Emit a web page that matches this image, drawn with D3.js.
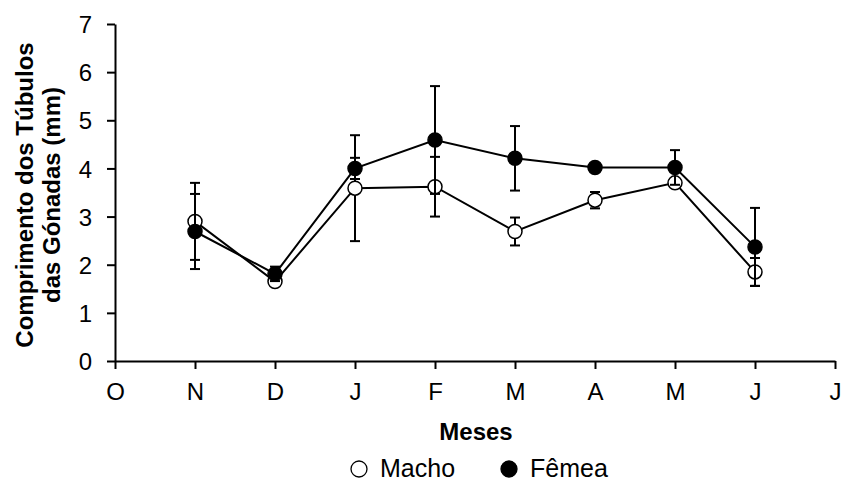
<!DOCTYPE html>
<html>
<head>
<meta charset="utf-8">
<script src="https://cdn.jsdelivr.net/npm/d3@7"></script>
<style>
  body { margin: 0; background: #fff; }
  svg { font-family: "Liberation Sans", Arial, sans-serif; }
</style>
</head>
<body>
<div id="chart"></div>
<script>
// Month tick labels (index 0..9) and the months with data
const monthLabels = ['O', 'N', 'D', 'J', 'F', 'M', 'A', 'M', 'J', 'J'];
const dataIdx = [1, 2, 3, 4, 5, 6, 7, 8];

// Macho (open circles): mean and error
const machoMean = [2.90, 1.65, 3.59, 3.62, 2.69, 3.34, 3.70, 1.85];
const machoErr = [0.80, 0.05, 1.10, 0.62, 0.29, 0.17, 0.05, 0.29];

// Fêmea (filled circles): mean and error
const femeaMean = [2.69, 1.81, 4.00, 4.59, 4.21, 4.02, 4.02, 2.37];
const femeaErr = [0.78, 0.15, 0.22, 1.12, 0.67, 0.03, 0.36, 0.81];

const yTicks = [0, 1, 2, 3, 4, 5, 6, 7];

// Size and plot area
const W = 842, H = 483;
const plot = { left: 115, right: 835, top: 24, bottom: 361 };

const svg = d3.select('#chart')
    .append('svg')
    .attr('width', W)
    .attr('height', H);

// Scales
const x = d3.scaleLinear().domain([0, 9]).range([plot.left, plot.right]);
const y = d3.scaleLinear().domain([0, 7]).range([plot.bottom, plot.top]);

// Axes
const xAxis = svg.append('g')
    .attr('transform', `translate(0,${plot.bottom})`)
    .call(d3.axisBottom(x)
        .tickValues(d3.range(10))
        .tickFormat(i => monthLabels[i])
        .tickSize(8)
        .tickSizeOuter(0)
        .tickPadding(14));

const yAxis = svg.append('g')
    .attr('transform', `translate(${plot.left},0)`)
    .call(d3.axisLeft(y)
        .tickValues(yTicks)
        .tickFormat(d3.format('d'))
        .tickSize(8)
        .tickSizeOuter(0)
        .tickPadding(15));

[xAxis, yAxis].forEach(ax => {
    ax.selectAll('path, line').attr('stroke', '#000').attr('stroke-width', 2);
    ax.selectAll('text').attr('font-size', 24).attr('fill', '#000')
        .attr('font-family', '"Liberation Sans", Arial, sans-serif');
});
yAxis.selectAll('text').attr('dy', '0.36em');

// Axis titles
svg.append('text')
    .attr('x', 476).attr('y', 440)
    .attr('text-anchor', 'middle')
    .attr('font-size', 24).attr('font-weight', 'bold')
    .text('Meses');

const yTitle = svg.append('text')
    .attr('transform', `translate(0,195) rotate(-90)`)
    .attr('text-anchor', 'middle')
    .attr('font-size', 24).attr('font-weight', 'bold');
yTitle.append('tspan').attr('x', 0).attr('y', 33).text('Comprimento dos Túbulos');
yTitle.append('tspan').attr('x', 0).attr('y', 60).text('das Gónadas (mm)');

// Build series
const series = [
    { name: 'Macho', fill: '#fff', pts: dataIdx.map((m, i) => ({ m, v: machoMean[i], e: machoErr[i] })) },
    { name: 'Fêmea', fill: '#000', pts: dataIdx.map((m, i) => ({ m, v: femeaMean[i], e: femeaErr[i] })) }
];

const line = d3.line().x(d => x(d.m)).y(d => y(d.v));

series.forEach(s => {
    // Error bars
    const eb = svg.append('g').attr('stroke', '#000').attr('stroke-width', 2);
    s.pts.forEach(d => {
        eb.append('line')
            .attr('x1', x(d.m)).attr('x2', x(d.m))
            .attr('y1', y(d.v - d.e)).attr('y2', y(d.v + d.e));
        [d.v - d.e, d.v + d.e].forEach(v => {
            eb.append('line')
                .attr('x1', x(d.m) - 5).attr('x2', x(d.m) + 5)
                .attr('y1', y(v)).attr('y2', y(v));
        });
    });

    // Line
    svg.append('path')
        .datum(s.pts)
        .attr('fill', 'none')
        .attr('stroke', '#000')
        .attr('stroke-width', 2)
        .attr('d', line);

    // Markers
    svg.append('g')
        .selectAll('circle')
        .data(s.pts)
        .join('circle')
        .attr('cx', d => x(d.m))
        .attr('cy', d => y(d.v))
        .attr('r', 7)
        .attr('fill', s.fill)
        .attr('stroke', '#000')
        .attr('stroke-width', 1.5);
});

// Legend
const legend = svg.append('g').attr('transform', 'translate(359,469)');
const legendItems = [
    { name: 'Macho', fill: '#fff', dx: 0 },
    { name: 'Fêmea', fill: '#000', dx: 150 }
];
legendItems.forEach(l => {
    const g = legend.append('g').attr('transform', `translate(${l.dx},0)`);
    g.append('circle')
        .attr('r', 8)
        .attr('fill', l.fill)
        .attr('stroke', '#000')
        .attr('stroke-width', 1.3);
    g.append('text')
        .attr('x', 21).attr('y', 8)
        .attr('font-size', 25)
        .text(l.name);
});
</script>
</body>
</html>
